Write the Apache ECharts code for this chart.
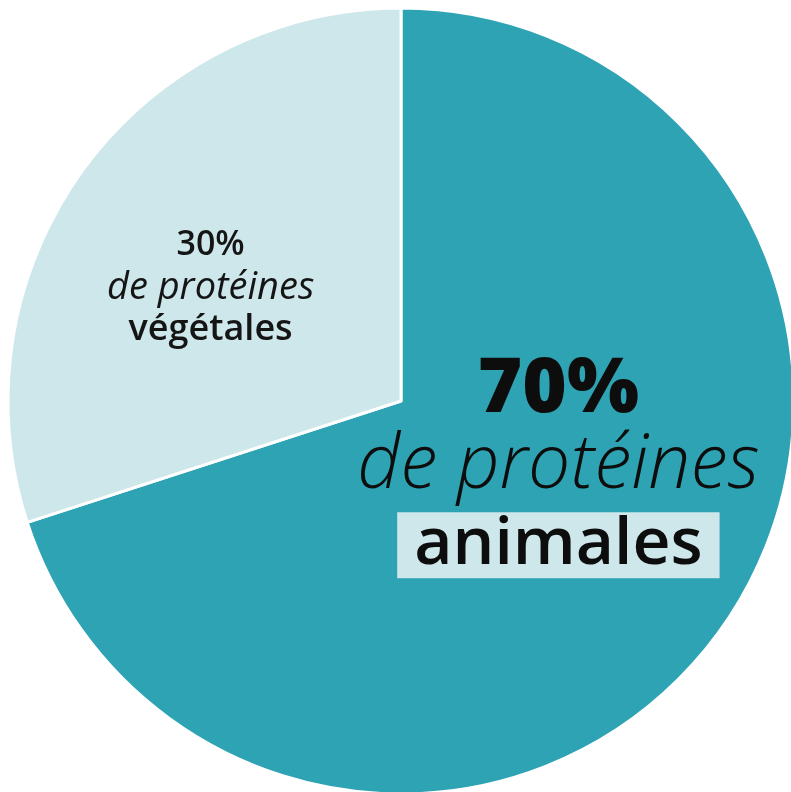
<!DOCTYPE html>
<html><head><meta charset="utf-8">
<script src="https://cdn.jsdelivr.net/npm/echarts@6/dist/echarts.min.js"></script>
<style>html,body{margin:0;padding:0;background:#fff}#c{width:791px;height:792px}</style>
</head><body><div id="c"></div>
<script>
const categories = ['animales', 'végétales'];
const values = [70, 30];
const labelMiddle = 'de protéines';
const colors = ['#2ea3b4', '#cde7ea'];

const FONT = "'Open Sans', 'Noto Sans', sans-serif";
const fmt = p => `{a|${p.value}%}\n{b|${labelMiddle}}\n{c|${p.name}}`;

const bigLabel = {
  formatter: fmt,
  rich: {
    a: { fontFamily: FONT, fontWeight: 800, fontSize: 76, lineHeight: 55, color: '#0d0d0d' },
    b: { fontFamily: FONT, fontStyle: 'italic', fontWeight: 300, fontSize: 75, lineHeight: 97, color: '#0d0d0d' },
    c: { fontFamily: FONT, fontWeight: 600, fontSize: 66, lineHeight: 61, color: '#0d0d0d',
         backgroundColor: '#cde7ea', padding: [0, 17, 0, 17] }
  }
};
const smallLabel = {
  formatter: fmt,
  rich: {
    a: { fontFamily: FONT, fontWeight: 600, fontSize: 34, lineHeight: 42, color: '#151515' },
    b: { fontFamily: FONT, fontStyle: 'italic', fontWeight: 400, fontSize: 38, lineHeight: 43, color: '#151515' },
    c: { fontFamily: FONT, fontWeight: 600, fontSize: 36, lineHeight: 42, color: '#151515' }
  }
};

const chart = echarts.init(document.getElementById('c'), null, { renderer: 'canvas' });
chart.setOption({
  animation: false,
  series: [{
    type: 'pie',
    center: [401, 401],
    radius: 393,
    startAngle: 90,
    clockwise: true,
    avoidLabelOverlap: false,
    label: { show: true, position: 'inside' },
    labelLine: { show: false },
    emphasis: { disabled: true },
    itemStyle: { borderColor: '#ffffff', borderWidth: 3 },
    labelLayout: function (p) {
      return p.dataIndex === 0 ? { dx: -4, dy: -49 } : { dx: -29, dy: 4 };
    },
    data: categories.map((c, i) => ({
      name: c,
      value: values[i],
      itemStyle: { color: colors[i] },
      label: i === 0 ? bigLabel : smallLabel
    }))
  }]
});
</script>
</body></html>
